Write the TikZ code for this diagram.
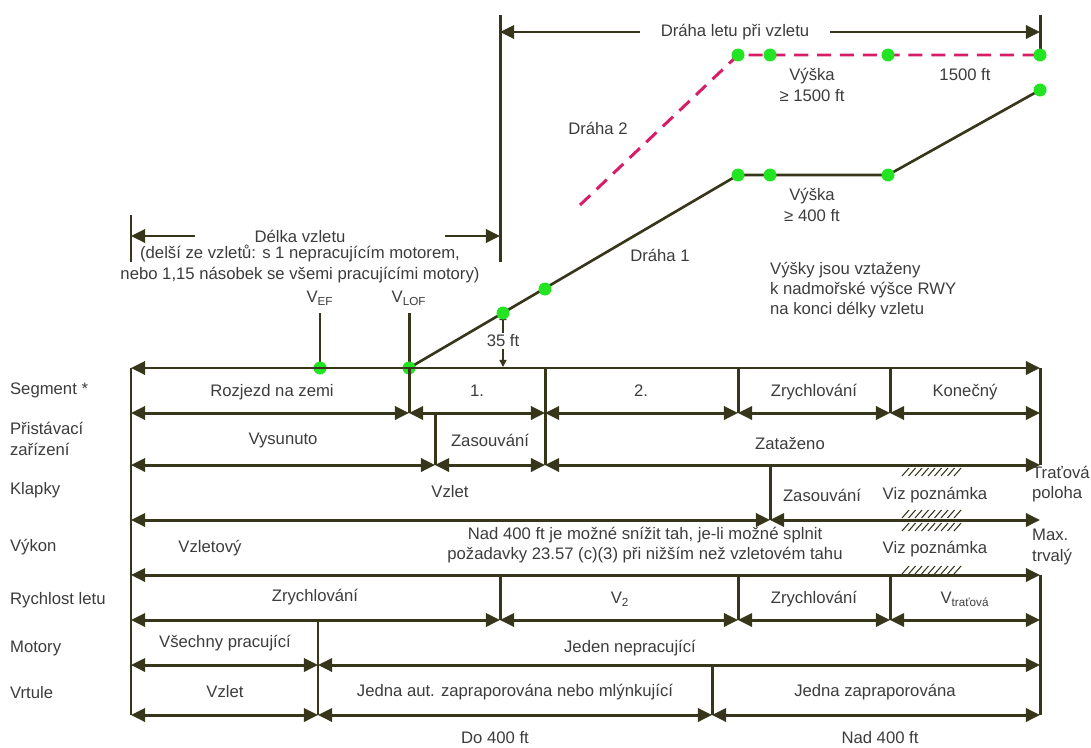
\documentclass[tikz,border=0pt]{standalone}
\usepackage{fontspec}
\setmainfont{Liberation Sans}
\usetikzlibrary{arrows.meta}

\definecolor{tmava}{RGB}{56,54,26}
\definecolor{draha}{RGB}{216,28,104}
\definecolor{bod}{RGB}{34,228,34}
\definecolor{txt}{RGB}{60,60,60}

\tikzset{
  hrot/.tip={Triangle[length=8pt,width=7.5pt]},
  sipka/.style={tmava,line width=1.7pt,hrot-hrot},
  sipkar/.style={tmava,line width=1.7pt,-hrot},
  linka/.style={tmava,line width=1.7pt},
  popis/.style={text=txt,font=\fontsize{9.5}{11.5}\selectfont,inner sep=1pt},
  radek/.style={popis,anchor=west,align=left},
  tecka/.style={circle,fill=bod,inner sep=0pt,minimum size=0.26cm},
}

\begin{document}
\begin{tikzpicture}[x=0.02cm,y=-0.02cm]
\useasboundingbox (0,0) rectangle (1091,747);

% body drah
\coordinate (ef) at (320,368);
\coordinate (lof) at (409,368);
\coordinate (h35) at (503,313);
\coordinate (d1a) at (545,289);
\coordinate (d1b) at (738,175);
\coordinate (d1c) at (770,175);
\coordinate (d1d) at (888,175);
\coordinate (d1e) at (1040,90);
\coordinate (d2s) at (580,205);
\coordinate (d2a) at (738,55);
\coordinate (d2b) at (770,55);
\coordinate (d2c) at (888,55);
\coordinate (d2d) at (1040,55);

% draha letu pri vzletu
\draw[linka] (500,15) -- (500,262);
\draw[linka] (1040,15) -- (d2d);
\node[popis] (dlv) at (735,32) {Dráha letu při vzletu};
\draw[sipkar] (640,32) -- (500,32);
\draw[sipkar] (830,32) -- (1040,32);

% delka vzletu
\draw[linka] (131,215) -- (131,262);
\node[popis] (dvz) at (300,236) {Délka vzletu};
\draw[sipkar] (195,236) -- (131,236);
\draw[sipkar] (445,236) -- (500,236);
\node[popis,align=center] (dvz2) at (300,264) {(delší ze vzletů: s 1 nepracujícím motorem,\\nebo 1,15 násobek se všemi pracujícími motory)};

% V_EF a V_LOF
\node[popis] (vef) at (320,298) {V\textsubscript{EF}};
\node[popis] (vlof) at (409,298) {V\textsubscript{LOF}};
\draw[linka] (320,313) -- (ef);
\draw[linka] (409,313) -- (lof);

% draha 2
\draw[draha,line width=1.7pt,dash pattern=on 8pt off 5pt] (d2s) -- (d2a) -- (d2d);
\node[popis] (dr2) at (598,128) {Dráha 2};

% draha 1
\draw[tmava,line width=1.5pt] (lof) -- (d1b) -- (d1d) -- (d1e);
\node[popis] (dr1) at (660,255) {Dráha 1};

% 35 ft
\node[popis] (f35) at (503,341) {35 ft};
\draw[tmava,line width=0.8pt,-{Triangle[length=4pt,width=4pt]}] (f35.north) -- (h35);
\draw[tmava,line width=0.8pt,-{Triangle[length=4pt,width=4pt]}] (f35.south) -- (503,367);

% vysky
\node[popis,align=center] (v1500) at (812,85) {Výška\\≥ 1500 ft};
\node[popis] (f1500) at (965,75) {1500 ft};
\node[popis,align=center] (v400) at (812,205) {Výška\\≥ 400 ft};
\node[popis,anchor=west,align=left] (pozn) at (768,290) {Výšky jsou vztaženy\\k nadmořské výšce RWY\\na konci délky vzletu};

% body
\foreach \b in {ef,lof,h35,d1a,d1b,d1c,d1d,d1e,d2a,d2b,d2c,d2d}
  \node[tecka] at (\b) {};

% popisy radku
\node[radek] (lseg) at (8,390) {Segment *};
\node[radek] (lpz) at (8,439) {Přistávací\\zařízení};
\node[radek] (lkl) at (8,490) {Klapky};
\node[radek] (lvyk) at (8,547) {Výkon};
\node[radek] (lrl) at (8,600) {Rychlost letu};
\node[radek] (lmot) at (8,648) {Motory};
\node[radek] (lvrt) at (8,693) {Vrtule};

% svisle cary
\draw[linka] (131,368) -- (131,715);
\draw[linka] (1040,368) -- (1040,465);
\draw[linka] (1040,575) -- (1040,715);
\draw[linka] (409,368) -- (409,413);
\draw[linka] (545,368) -- (545,465);
\draw[linka] (738,368) -- (738,413);
\draw[linka] (890,368) -- (890,413);
\draw[linka] (435,413) -- (435,465);
\draw[linka] (770,465) -- (770,520);
\draw[linka] (500,575) -- (500,620);
\draw[linka] (738,575) -- (738,620);
\draw[linka] (890,575) -- (890,620);
\draw[linka] (318,620) -- (318,715);
\draw[linka] (712,665) -- (712,715);

% vodorovne sipky
\draw[sipka] (131,368) -- (1040,368);
\foreach \a/\b in {131/409,409/545,545/738,738/890,890/1040}
  \draw[sipka] (\a,413) -- (\b,413);
\foreach \a/\b in {131/435,435/545,545/1040}
  \draw[sipka] (\a,465) -- (\b,465);
\foreach \a/\b in {131/770,770/1040}
  \draw[sipka] (\a,520) -- (\b,520);
\draw[sipka] (131,575) -- (1040,575);
\foreach \a/\b in {131/500,500/738,738/890,890/1040}
  \draw[sipka] (\a,620) -- (\b,620);
\foreach \a/\b in {131/318,318/1040}
  \draw[sipka] (\a,665) -- (\b,665);
\foreach \a/\b in {131/318,318/712,712/1040}
  \draw[sipka] (\a,715) -- (\b,715);

% srafovani
\foreach \y in {476,518,531,574}
  \foreach \i in {0,...,8}
    \draw[tmava,line width=0.6pt] (902+6.5*\i,\y) -- ++(7,-8);

% segment
\node[popis] (s0) at (272,392) {Rozjezd na zemi};
\node[popis] (s1) at (477,391) {1.};
\node[popis] (s2) at (641,391) {2.};
\node[popis] (s3) at (814,392) {Zrychlování};
\node[popis] (s4) at (965,392) {Konečný};

% pristavaci zarizeni
\node[popis] (pz0) at (283,440) {Vysunuto};
\node[popis] (pz1) at (490,440) {Zasouvání};
\node[popis] (pz2) at (790,443) {Zataženo};

% klapky
\node[popis] (kl0) at (450,492) {Vzlet};
\node[popis] (kl1) at (822,495) {Zasouvání};
\node[popis] (kl2) at (935,495) {Viz poznámka};
\node[popis,anchor=west,align=left] (kl3) at (1030,484) {Traťová\\poloha};

% vykon
\node[popis] (vy0) at (210,548) {Vzletový};
\node[popis,align=center] (vy1) at (645,545) {Nad 400 ft je možné snížit tah, je-li možné splnit\\požadavky 23.57 (c)(3) při nižším než vzletovém tahu};
\node[popis] (vy2) at (935,549) {Viz poznámka};
\node[popis,anchor=west,align=left] (vy3) at (1030,547) {Max.\\trvalý};

% rychlost letu
\node[popis] (rl0) at (315,597) {Zrychlování};
\node[popis] (rl1) at (620,599) {V\textsubscript{2}};
\node[popis] (rl2) at (814,599) {Zrychlování};
\node[popis] (rl3) at (965,599) {V\textsubscript{traťová}};

% motory
\node[popis] (mo0) at (225,643) {Všechny pracující};
\node[popis] (mo1) at (630,648) {Jeden nepracující};

% vrtule
\node[popis] (vr0) at (225,692) {Vzlet};
\node[popis] (vr1) at (515,692) {Jedna aut. zapraporována nebo mlýnkující};
\node[popis] (vr2) at (875,692) {Jedna zapraporována};
\node[popis] (do400) at (495,738) {Do 400 ft};
\node[popis] (nad400) at (880,738) {Nad 400 ft};

\end{tikzpicture}
\end{document}
